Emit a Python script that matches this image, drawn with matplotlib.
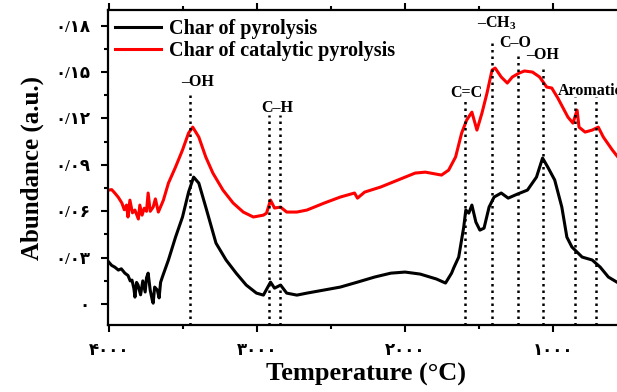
import matplotlib
matplotlib.use("Agg")
import matplotlib.pyplot as plt
from matplotlib.ticker import FixedLocator, MultipleLocator

plt.rcParams['font.family'] = ['Liberation Serif', 'DejaVu Sans']
plt.rcParams['font.weight'] = 'bold'
plt.rcParams['mathtext.fontset'] = 'custom'
plt.rcParams['mathtext.bf'] = 'Liberation Serif:bold'
plt.rcParams['mathtext.rm'] = 'Liberation Serif:bold'

# wavenumber (x) and abundance for the char of pyrolysis
wn_pyro = [4000, 3980, 3959, 3935, 3915, 3891, 3870, 3855, 3843, 3830, 3823, 3812,
           3802, 3785, 3770, 3754, 3745, 3734, 3720, 3706, 3700, 3690, 3672, 3660,
           3650, 3638,
           3597, 3549, 3502, 3461, 3427, 3392, 3345, 3276, 3208, 3140, 3072, 3003,
           2956, 2908, 2881, 2840, 2799, 2730, 2662, 2546, 2437, 2321, 2205, 2096,
           2000, 1898, 1788, 1727, 1686, 1672, 1638, 1604, 1590, 1570, 1549, 1522,
           1495, 1467, 1433, 1399, 1351, 1304, 1242, 1174, 1113, 1072, 1037, 990,
           942, 908, 874, 805, 737, 683, 628, 560, 532]
ab_pyro = [0.0272, 0.0250, 0.0239, 0.0220, 0.0228, 0.0200, 0.0185, 0.0150, 0.0155,
           0.0100, 0.0045, 0.0140, 0.0123, 0.0060, 0.0150, 0.0078, 0.0170, 0.0200,
           0.0090, 0.0026, 0.0006, 0.0110, 0.0091, 0.0040, 0.0140, 0.0175,
           0.0285, 0.0433, 0.0563, 0.0724, 0.0821, 0.0782,
           0.0627, 0.0394, 0.0285, 0.0200, 0.0123, 0.0071, 0.0058, 0.0142, 0.0103,
           0.0123, 0.0071, 0.0058, 0.0071, 0.0091, 0.0110, 0.0142, 0.0175, 0.0200,
           0.0207, 0.0194, 0.0162, 0.0136, 0.0200, 0.0233, 0.0304, 0.0498, 0.0608,
           0.0588, 0.0640, 0.0530, 0.0478, 0.0491, 0.0627, 0.0692, 0.0718, 0.0685,
           0.0711, 0.0737, 0.0821, 0.0944, 0.0886, 0.0802, 0.0627, 0.0433, 0.0369,
           0.0304, 0.0285, 0.0239, 0.0175, 0.0136, 0.0110]

# wavenumber and abundance for the char of catalytic pyrolysis
wn_cat = [4000, 3980, 3959, 3935, 3911, 3895, 3880, 3870, 3857, 3840, 3823, 3800,
          3790, 3775, 3760, 3745, 3734, 3720, 3700, 3685, 3665, 3645, 3631, 3597,
          3549, 3502, 3461, 3433, 3392, 3345, 3297, 3229, 3160, 3092, 3024, 2956,
          2935, 2908, 2881, 2840, 2799, 2730, 2662, 2546, 2437, 2341, 2321, 2273,
          2164, 2048, 1932, 1863, 1754, 1706, 1659, 1618, 1584, 1549, 1515, 1481,
          1447, 1413, 1392, 1351, 1310, 1276, 1229, 1194, 1140, 1092, 1044, 1010,
          969, 901, 867, 839, 826, 785, 737, 696, 662, 601, 532]
ab_cat = [0.0737, 0.0740, 0.0718, 0.0690, 0.0653, 0.0610, 0.0640, 0.0563, 0.0672,
          0.0590, 0.0608, 0.0550, 0.0640, 0.0575, 0.0620, 0.0600, 0.0718, 0.0600,
          0.0627, 0.0680, 0.0595, 0.0640, 0.0672, 0.0782,
          0.0886, 0.0996, 0.1106, 0.1144, 0.1080, 0.0951,
          0.0847, 0.0737, 0.0653, 0.0595, 0.0563, 0.0575, 0.0588, 0.0672, 0.0621,
          0.0627, 0.0595, 0.0595, 0.0608, 0.0653, 0.0692, 0.0718, 0.0685, 0.0724,
          0.0757, 0.0802, 0.0847, 0.0853, 0.0834, 0.0866, 0.0951, 0.1106, 0.1190,
          0.1241, 0.1125, 0.1235, 0.1364, 0.1513, 0.1526, 0.1468, 0.1429, 0.1468,
          0.1494, 0.1507, 0.1500, 0.1468, 0.1403, 0.1397, 0.1332, 0.1209, 0.1170,
          0.1254, 0.1144, 0.1112, 0.1125, 0.1144, 0.1080, 0.0996, 0.0912]

# band positions (dotted markers) and how high each marker reaches
band_wn = [3454, 2915, 2846, 1597, 1413, 1240, 1070, 850, 710]
band_top = [0.1364, 0.122, 0.122, 0.132, 0.1707, 0.163, 0.1545, 0.134, 0.134]

# band labels: text, x, y
band_labels = ['–OH', 'C–H', 'C=C', r'–CH$_{\mathbf{3}}$', 'C–O', '–OH', 'Aromatic']
label_wn = [3399, 2860, 1584, 1379, 1256, 1072, 969]
label_y = [0.1435, 0.1267, 0.1364, 0.1817, 0.1687, 0.161, 0.138]
label_ha = ['center', 'center', 'center', 'center', 'center', 'center', 'left']

yticks = [0, 0.03, 0.06, 0.09, 0.12, 0.15, 0.18]
xticks = [4000, 3000, 2000, 1000]

fa_digits = str.maketrans('0123456789', '۰۱۲۳۴۵۶۷۸۹')


def fa_num(v, decimals):
    s = f'{v:.{decimals}f}' if v != 0 else '0'
    return s.replace('.', '/').translate(fa_digits)


fig = plt.figure(figsize=(6.17, 3.92), dpi=100)
ax = fig.add_axes([0.175, 0.171, 0.835, 0.803])

ax.plot(wn_pyro, ab_pyro, color='black', lw=2.2, label='Char of pyrolysis')
ax.plot(wn_cat, ab_cat, color='red', lw=2.2, label='Char of catalytic pyrolysis')

ax.set_xlim(4005, 528)
ax.set_ylim(-0.0135, 0.19)

ax.vlines(band_wn, -0.0135, band_top, colors='black', lw=1.8, linestyles=(0, (1, 1.6)))

for txt, x, y, ha in zip(band_labels, label_wn, label_y, label_ha):
    ax.text(x, y, txt, ha=ha, va='center', fontsize=11.5, fontweight='bold')

ax.yaxis.set_major_locator(FixedLocator(yticks))
ax.yaxis.set_minor_locator(MultipleLocator(0.015))
ax.set_yticklabels([fa_num(v, 2) for v in yticks])
ax.xaxis.set_major_locator(FixedLocator(xticks))
ax.xaxis.set_minor_locator(MultipleLocator(500))
ax.set_xticklabels([fa_num(v, 0) for v in xticks])

ax.tick_params(which='major', direction='out', length=5, width=1.5, labelsize=12, pad=8)
ax.tick_params(which='minor', direction='out', length=3, width=1.5)
ax.tick_params(axis='x', which='both', top=True, labeltop=False)
for lab in ax.get_xticklabels() + ax.get_yticklabels():
    lab.set_fontweight('bold')

for side in ['left', 'bottom', 'top', 'right']:
    ax.spines[side].set_linewidth(1.6)

ax.set_xlabel('Temperature (°C)', fontsize=19, fontweight='bold', labelpad=3)
ax.set_ylabel('Abundance (a.u.)', fontsize=18, fontweight='bold', labelpad=8)

ax.legend(loc='upper left', bbox_to_anchor=(-0.022, 1.03), frameon=False,
          prop={'family': 'Liberation Serif', 'weight': 'bold', 'size': 14.5},
          handlelength=2.3, handletextpad=0.4, labelspacing=0.12)

fig.savefig('out.png', dpi=100)
